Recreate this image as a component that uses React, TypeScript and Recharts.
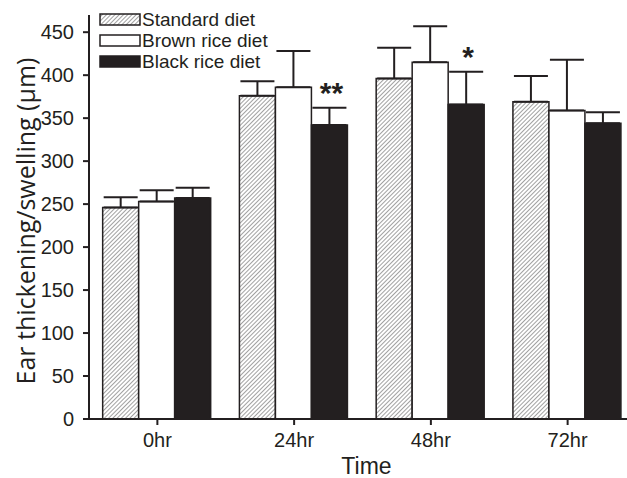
import React from 'react';
import { BarChart, Bar, XAxis, YAxis, ErrorBar, Legend, LabelList } from 'recharts';

const categories = ['0hr', '24hr', '48hr', '72hr'];
const standardMean = [246, 376, 396, 369];
const standardErr = [12, 17, 36, 30];
const brownMean = [253, 386, 415, 359];
const brownErr = [13, 42, 42, 59];
const blackMean = [257, 342, 366, 344];
const blackErr = [12, 20, 38, 13];
const sigMarks = ['', '**', '*', ''];
const yTicks = [0, 50, 100, 150, 200, 250, 300, 350, 400, 450];

const seriesNames = ['Standard diet', 'Brown rice diet', 'Black rice diet'];
const seriesFills = ['url(#hatch)', '#ffffff', '#231f20'];

const INK = '#231f20';
const FONT = '"Liberation Sans", Arial, sans-serif';

const data = categories.map((time, i) => ({
  time,
  standard: standardMean[i],
  standardErr: [0, standardErr[i]],
  brown: brownMean[i],
  brownErr: [0, brownErr[i]],
  black: blackMean[i],
  blackErr: [0, blackErr[i]],
  sig: sigMarks[i],
}));

const renderLegend = () => (
  <div style={{ fontFamily: FONT, fontSize: 19, color: INK }}>
    {seriesNames.map((name, i) => (
      <div key={name} style={{ display: 'flex', alignItems: 'center', height: 21 }}>
        <svg width={42} height={13} style={{ marginRight: 1 }}>
          <rect x={1} y={1} width={40} height={11} fill={seriesFills[i]} stroke={INK} strokeWidth={1.5} />
        </svg>
        <span style={{ lineHeight: '21px' }}>{name}</span>
      </div>
    ))}
  </div>
);

const XTick = (props: any) => {
  const { x, y, payload } = props;
  return (
    <text x={x} y={y} dy="0.72em" textAnchor="middle" fontFamily={FONT} fontSize={20} fill={INK}>
      {payload.value}
    </text>
  );
};

const YTick = (props: any) => {
  const { x, y, payload } = props;
  return (
    <text x={x} y={y} dy="0.36em" textAnchor="end" fontFamily={FONT} fontSize={20} fill={INK}>
      {payload.value}
    </text>
  );
};

const renderSig = (props: any) => {
  const { x, y, width, height, value, index } = props;
  if (!value) return null;
  const capY = y - (blackErr[index] * height) / blackMean[index];
  return (
    <text
      x={x + width / 2 + 2}
      y={capY - 5}
      textAnchor="middle"
      fontFamily={FONT}
      fontWeight="bold"
      fontSize={30}
      fill={INK}
    >
      {value}
    </text>
  );
};

const App = () => {
  return (
    <div style={{ position: 'absolute', left: 0, top: 0, width: 627, height: 478, overflow: 'hidden', background: '#fff' }}>
      <BarChart
        width={650}
        height={478}
        data={data}
        margin={{ top: 15, right: 14, left: 0, bottom: 0 }}
        barCategoryGap="10%"
        barGap={0}
      >
        <defs>
          <pattern id="hatch" patternUnits="userSpaceOnUse" width={3} height={3} patternTransform="rotate(45)">
            <rect width={3} height={3} fill="#ffffff" />
            <line x1={0} y1={0} x2={0} y2={3} stroke="#444444" strokeWidth={1} />
          </pattern>
        </defs>
        <XAxis
          dataKey="time"
          height={59}
          tickSize={6}
          tickMargin={8}
          axisLine={{ stroke: INK, strokeWidth: 2 }}
          tickLine={{ stroke: INK, strokeWidth: 2 }}
          tick={<XTick />}
          label={{
            content: (p: any) => (
              <text
                x={p.viewBox.x + p.viewBox.width / 2 + 4}
                y={474}
                textAnchor="middle"
                fontFamily={FONT}
                fontSize={23}
                fill={INK}
              >
                Time
              </text>
            ),
          }}
        />
        <YAxis
          width={89}
          domain={[0, 470]}
          ticks={yTicks}
          tickSize={6}
          tickMargin={9}
          axisLine={{ stroke: INK, strokeWidth: 2 }}
          tickLine={{ stroke: INK, strokeWidth: 2 }}
          tick={<YTick />}
          label={{
            content: (p: any) => {
              const cy = p.viewBox.y + p.viewBox.height / 2 + 4;
              return (
                <text
                  x={25}
                  y={cy}
                  transform={`rotate(-90, 25, ${cy})`}
                  textAnchor="middle"
                  dominantBaseline="central"
                  fontFamily='"Open Sans", sans-serif'
                  fontSize={25}
                  fill={INK}
                >
                  Ear thickening/swelling (μm)
                </text>
              );
            },
          }}
        />
        <Legend
          layout="vertical"
          verticalAlign="middle"
          align="center"
          content={renderLegend}
          wrapperStyle={{ top: 9, left: 99, width: 220 }}
        />
        <Bar dataKey="standard" name={seriesNames[0]} fill={seriesFills[0]} stroke={INK} strokeWidth={1.5} isAnimationActive={false}>
          <ErrorBar dataKey="standardErr" direction="y" width={17} stroke={INK} strokeWidth={2} isAnimationActive={false} />
        </Bar>
        <Bar dataKey="brown" name={seriesNames[1]} fill={seriesFills[1]} stroke={INK} strokeWidth={1.5} isAnimationActive={false}>
          <ErrorBar dataKey="brownErr" direction="y" width={17} stroke={INK} strokeWidth={2} isAnimationActive={false} />
        </Bar>
        <Bar dataKey="black" name={seriesNames[2]} fill={seriesFills[2]} stroke={INK} strokeWidth={1.5} isAnimationActive={false}>
          <ErrorBar dataKey="blackErr" direction="y" width={17} stroke={INK} strokeWidth={2} isAnimationActive={false} />
          <LabelList dataKey="sig" content={renderSig} />
        </Bar>
      </BarChart>
    </div>
  );
};

export default App;
